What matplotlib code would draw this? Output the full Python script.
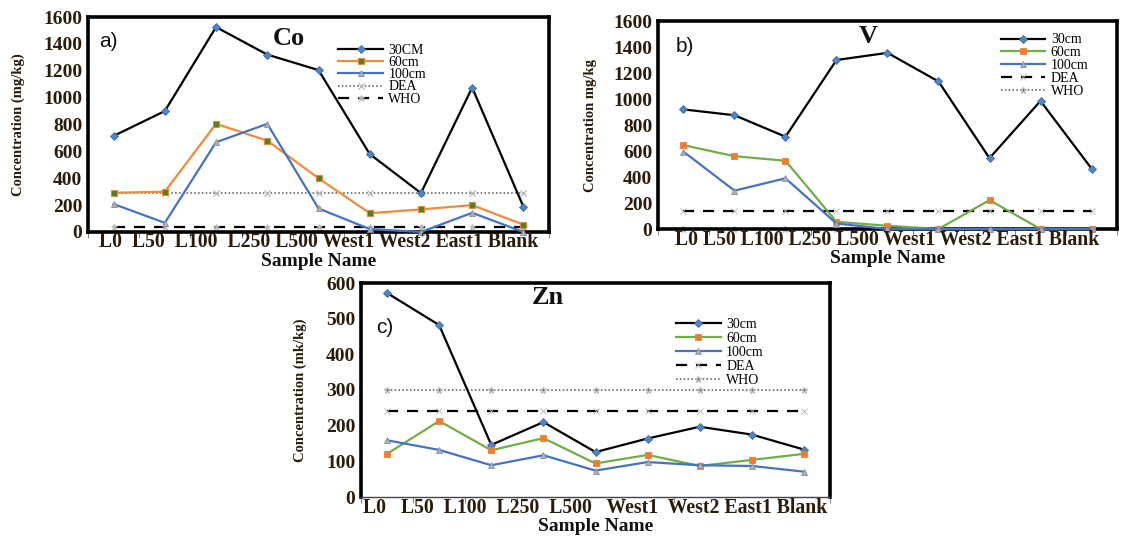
import matplotlib
matplotlib.use("Agg")
import matplotlib.pyplot as plt
import numpy as np

SAMPLES = ["L0", "L50", "L100", "L250", "L500", "West1", "West2", "East1", "Blank"]

# Co (mg/kg)
CO_30 = [715, 900, 1525, 1320, 1205, 580, 290, 1075, 188]
CO_60 = [292, 300, 805, 680, 400, 140, 168, 200, 55]
CO_100 = [208, 68, 668, 805, 175, 22, 0, 143, 0]
CO_DEA = 290
CO_WHO = 40

# V (mg/kg)
V_30 = [920, 875, 710, 1300, 1355, 1135, 545, 985, 465]
V_60 = [645, 560, 525, 55, 25, 0, 222, 0, 0]
V_100 = [595, 295, 390, 42, 0, 0, 0, 0, 0]
V_DEA = 135
V_WHO = 0

# Zn (mk/kg)
ZN_30 = [572, 482, 146, 210, 126, 164, 197, 175, 133]
ZN_60 = [121, 213, 131, 165, 94, 118, 87, 104, 121]
ZN_100 = [159, 132, 89, 117, 74, 98, 89, 87, 71]
ZN_DEA = 240
ZN_WHO = 300

SERIF = "Liberation Serif"
TEXT_COLOR = "#2b1b0b"
FIG_W, FIG_H = 1124, 536

STYLE_30 = dict(color="black", lw=1.6, marker="D", ms=4, mfc="#4f86c6", mec="#3a6aa8", mew=0.6)
STYLE_60_ORANGE = dict(color="#f08a3c", lw=1.6, marker="s", ms=4.5, mfc="#4e7f2a", mec="#e9892f", mew=0.8)
STYLE_60_GREEN = dict(color="#70ad47", lw=1.6, marker="s", ms=5, mfc="#ed7d31", mec="#ed7d31", mew=0.6)
STYLE_100 = dict(color="#4472c4", lw=1.6, marker="^", ms=5, mfc="#b0b0b0", mec="#8190aa", mew=0.6)
STYLE_DOT = dict(color="#555555", lw=1.1, ls=(0, (1, 1.5)), marker="x", ms=4, mec="#b5b5b5", mew=0.9)
STYLE_DASH = dict(color="black", lw=1.6, ls=(0, (5, 4)), marker="*", ms=5, mfc="#c0c0c0", mec="#b5b5b5", mew=0.6)


def axes_rect(left, top, right, bottom):
    return [left / FIG_W, 1 - bottom / FIG_H, (right - left) / FIG_W, (bottom - top) / FIG_H]


def draw_panel(ax, series, limits, ymax, ystep, ylabel, letter, title, layout):
    x = np.arange(len(SAMPLES))
    for values, label, style in series:
        ax.plot(x, values, label=label, clip_on=False, zorder=3, **style)
    for value, label, style in limits:
        ax.plot(x, np.full(len(SAMPLES), value), label=label, clip_on=False, zorder=2, **style)

    ax.set_xlim(-0.5, len(SAMPLES) - 0.5)
    ax.set_ylim(0, ymax)
    ax.set_yticks(np.arange(0, ymax + 1, ystep))
    ax.set_xticks(np.arange(-0.5, len(SAMPLES)))
    ax.set_xticklabels([])
    ax.tick_params(axis="x", length=4, width=0.8, color="#888888", direction="out")
    ax.tick_params(axis="y", length=0, pad=4)
    for lab in ax.get_yticklabels():
        lab.set_fontfamily(SERIF)
        lab.set_fontweight("bold")
        lab.set_fontsize(14)
        lab.set_color(TEXT_COLOR)
    for side in ax.spines.values():
        side.set_linewidth(2.6)
        side.set_color("black")
    if layout.get("thin_bottom"):
        ax.spines["bottom"].set_linewidth(1.0)
        ax.spines["bottom"].set_color("#444444")

    ax.set_ylabel(ylabel, fontfamily=SERIF, fontweight="bold", fontsize=10.5, color=TEXT_COLOR)
    ax.yaxis.set_label_coords(layout["ylabel_x"], 0.5)

    names = "".join(name + " " * gap for name, gap in zip(SAMPLES, layout["gaps"] + [0]))
    ax.annotate(names, xy=(0.5, 0), xycoords="axes fraction", xytext=(0, -layout["names_dy"]),
                textcoords="offset points", ha="center", va="center", fontfamily=SERIF,
                fontweight="bold", fontsize=14.2, color=TEXT_COLOR)
    ax.annotate("Sample Name", xy=(0.5, 0), xycoords="axes fraction", xytext=(0, -layout["xlabel_dy"]),
                textcoords="offset points", ha="center", va="center", fontfamily=SERIF,
                fontweight="bold", fontsize=14, color="#111111")

    ax.text(*layout["letter_xy"], letter, transform=ax.transAxes, ha="center", va="center",
            fontfamily="Liberation Sans", fontsize=15, color="#111111")
    ax.text(*layout["title_xy"], title, transform=ax.transAxes, ha="center", va="center",
            fontfamily=SERIF, fontweight="bold", fontsize=19, color="#111111")

    ax.legend(loc="upper left", bbox_to_anchor=layout["legend_xy"], frameon=False,
              prop={"family": SERIF, "size": 10}, handlelength=3.2, handletextpad=0.4,
              labelspacing=layout["legend_gap"], borderpad=0, borderaxespad=0)


fig = plt.figure(figsize=(FIG_W / 100, FIG_H / 100), dpi=100)

ax_a = fig.add_axes(axes_rect(88, 17, 549, 232))
draw_panel(
    ax_a,
    [(CO_30, "30CM", STYLE_30), (CO_60, "60cm", STYLE_60_ORANGE), (CO_100, "100cm", STYLE_100)],
    [(CO_DEA, "DEA", STYLE_DOT), (CO_WHO, "WHO", STYLE_DASH)],
    1600, 200, "Concentration (mg/kg)", "a)", "Co",
    dict(ylabel_x=-0.137, gaps=[2, 2, 2, 1, 1, 1, 1, 1], names_dy=7.5, xlabel_dy=21.5,
         letter_xy=(0.045, 0.884), title_xy=(0.436, 0.9), legend_xy=(0.543, 0.875),
         legend_gap=-0.06),
)

ax_b = fig.add_axes(axes_rect(658, 21, 1117, 229))
draw_panel(
    ax_b,
    [(V_30, "30cm", STYLE_30), (V_60, "60cm", STYLE_60_GREEN), (V_100, "100cm", STYLE_100)],
    [(V_DEA, "DEA", STYLE_DASH | dict(marker="x", ms=4)), (V_WHO, "WHO", STYLE_DOT | dict(marker="*", ms=5))],
    1600, 200, "Concentration mg/kg", "b)", "V",
    dict(ylabel_x=-0.133, gaps=[1] * 8, names_dy=8, xlabel_dy=21.5,
         letter_xy=(0.058, 0.875), title_xy=(0.457, 0.925), legend_xy=(0.747, 0.94),
         legend_gap=-0.01),
)

ax_c = fig.add_axes(axes_rect(361, 283, 830, 497))
draw_panel(
    ax_c,
    [(ZN_30, "30cm", STYLE_30), (ZN_60, "60cm", STYLE_60_GREEN), (ZN_100, "100cm", STYLE_100)],
    [(ZN_DEA, "DEA", STYLE_DASH | dict(marker="x", ms=4)), (ZN_WHO, "WHO", STYLE_DOT | dict(marker="*", ms=5))],
    600, 100, "Concentration (mk/kg)", "c)", "Zn",
    dict(ylabel_x=-0.115, gaps=[3, 2, 2, 2, 3, 2, 1, 1], names_dy=8, xlabel_dy=21.5,
         letter_xy=(0.05, 0.794), title_xy=(0.399, 0.93), legend_xy=(0.672, 0.835),
         legend_gap=0.07, thin_bottom=True),
)

fig.savefig("out.png", dpi=100)
